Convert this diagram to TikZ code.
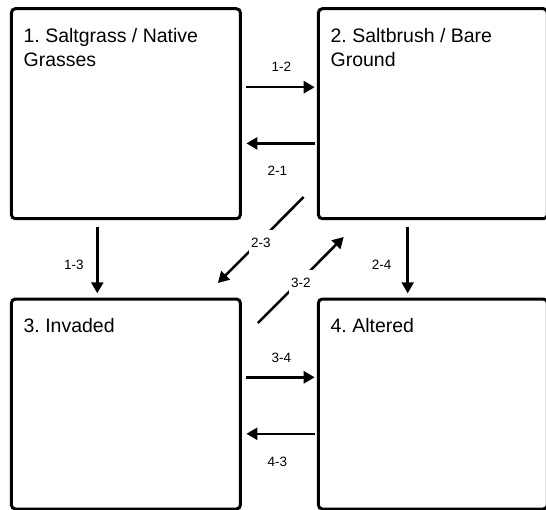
\documentclass[tikz,border=0pt]{standalone}
\usepackage{fontspec}
\setmainfont{Liberation Sans}
\frenchspacing
\usetikzlibrary{positioning,arrows.meta}
\tikzset{
	statebox/.style={draw, line width=3pt, rounded corners=4pt, minimum width=229pt, minimum height=210pt, inner sep=0pt, outer sep=0pt},
	title/.style={anchor=north west, inner sep=0pt, align=left, font=\fontsize{19.5}{24}\selectfont},
	trans/.style={line width=2.5pt, -{Triangle[length=11pt,width=12pt]}},
	tlabel/.style={font=\fontsize{13.5}{16}\selectfont, inner sep=1pt},
	gaplabel/.style={tlabel, fill=white, minimum height=26pt, inner sep=2pt},
}

\begin{document}
\begin{tikzpicture}
	\useasboundingbox (0,0) rectangle (546pt,-509pt);
	\clip (0,0) rectangle (546pt,-509pt);

	\node[statebox] (s1) at (125.9pt,-113.7pt) {};
	\node[statebox, right=78pt of s1] (s2) {};
	\node[statebox, below=80.3pt of s1] (s3) {};
	\node[statebox, right=78pt of s3] (s4) {};

	\node[title] (t1) at ([shift={(12pt,-19.5pt)}]s1.north west) {1. Saltgrass / Native\\Grasses};
	\node[title] (t2) at ([shift={(12pt,-19.5pt)}]s2.north west) {2. Saltbrush / Bare\\Ground};
	\node[title] (t3) at ([shift={(12pt,-19.5pt)}]s3.north west) {3. Invaded};
	\node[title] (t4) at ([shift={(12pt,-19.5pt)}]s4.north west) {4. Altered};

	% horizontal transitions
	\draw[trans, shorten <=6pt, shorten >=3.7pt] ([yshift=26.5pt]s1.east) -- node[tlabel, xshift=2pt, yshift=20pt] (l12) {1-2} ([yshift=26.5pt]s2.west);
	\draw[trans, shorten <=3.7pt, shorten >=6pt] ([yshift=-29.7pt]s2.west) -- node[tlabel, xshift=-2pt, yshift=-27.7pt] (l21) {2-1} ([yshift=-29.7pt]s1.east);
	\draw[trans, shorten <=6pt, shorten >=3.7pt] ([yshift=26.7pt]s3.east) -- node[tlabel, xshift=2pt, yshift=19pt] (l34) {3-4} ([yshift=26.7pt]s4.west);
	\draw[trans, shorten <=3.7pt, shorten >=6pt] ([yshift=-29.8pt]s4.west) -- node[tlabel, xshift=-2pt, yshift=-28pt] (l43) {4-3} ([yshift=-29.8pt]s3.east);

	% vertical transitions
	\draw[trans, shorten <=8pt, shorten >=5.7pt] ([xshift=-28.6pt]s1.south) -- node[tlabel, xshift=-23.5pt, yshift=-6pt] (l13) {1-3} ([xshift=-28.6pt]s3.north);
	\draw[trans, shorten <=8pt, shorten >=5.7pt] ([xshift=-25.2pt]s2.south) -- node[tlabel, xshift=-26pt, yshift=-6pt] (l24) {2-4} ([xshift=-25.2pt]s4.north);

	% diagonal transitions
	\draw[trans] ([shift={(-14.7pt,21.7pt)}]s2.south west) -- node[gaplabel, yshift=-3pt] (l23) {2-3} ([shift={(-22.5pt,16pt)}]s3.north east);
	\draw[trans] ([shift={(17.5pt,-24pt)}]s3.north east) -- node[gaplabel, yshift=-3pt] (l32) {3-2} ([shift={(25.3pt,-18.3pt)}]s2.south west);
\end{tikzpicture}
\end{document}
